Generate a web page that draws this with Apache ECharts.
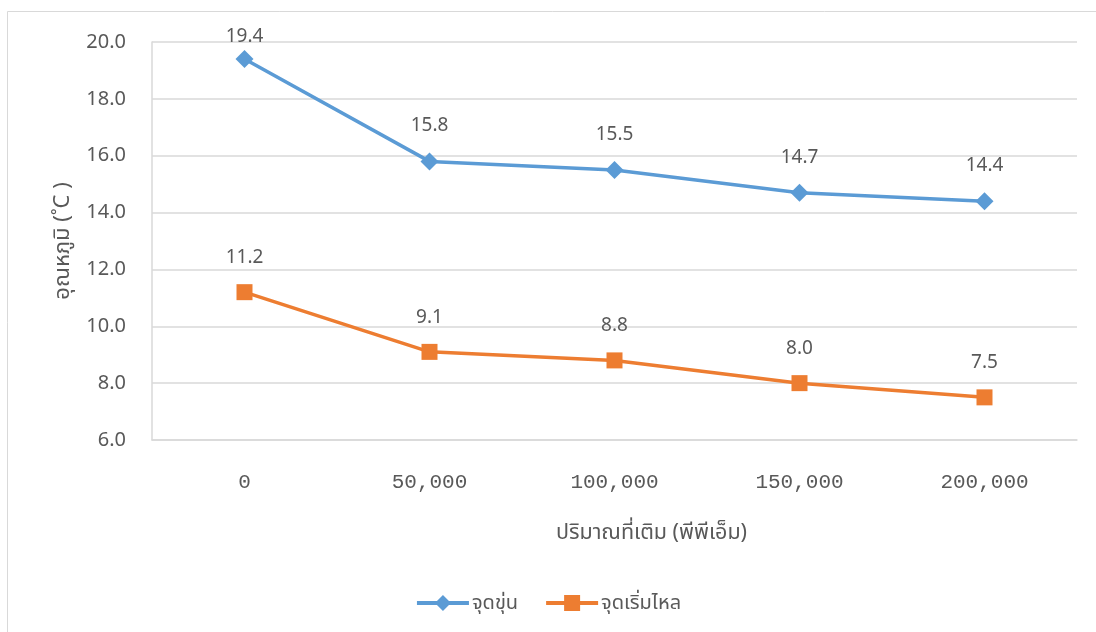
<!DOCTYPE html>
<html>
<head>
<meta charset="utf-8">
<script src="https://cdn.jsdelivr.net/npm/echarts@6/dist/echarts.min.js"></script>
<style>
  html, body { margin: 0; padding: 0; background: #fff; }
  #chart { width: 1096px; height: 632px; }
</style>
</head>
<body>
<div id="chart"></div>
<script>
// Dosage categories (ppm) and measured temperatures (°C)
const doses = ['0', '50,000', '100,000', '150,000', '200,000'];
const cloudPoint = [19.4, 15.8, 15.5, 14.7, 14.4];
const pourPoint = [11.2, 9.1, 8.8, 8.0, 7.5];
const yTicks = { min: 6, max: 20, interval: 2 };

const seriesNames = ['จุดขุ่น', 'จุดเริ่มไหล'];
const xTitle = 'ปริมาณที่เติม (พีพีเอ็ม)';
const yTitle = 'อุณหภูมิ (˚C )';

const FONT = '"Noto Sans", "Noto Sans Thai", sans-serif';
const MONO = '"Liberation Mono", monospace';
const TEXT = '#595959';
const GRID = '#d9d9d9';

function withLabels(values) {
  return values.map(function (v) {
    // the top-most point sits close to the plot edge, so its label is pulled in
    if (v >= 19) return { value: v, label: { distance: 4 } };
    return v;
  });
}

const valueLabel = {
  show: true, position: 'top', distance: 17,
  color: TEXT, fontSize: 19, fontFamily: FONT,
  formatter: function (p) { return p.value.toFixed(1); }
};

const chart = echarts.init(document.getElementById('chart'));
chart.setOption({
  animation: false,
  backgroundColor: '#fff',
  textStyle: { fontFamily: FONT },
  graphic: [{
    type: 'rect',
    shape: { x: 7.5, y: 11.5, width: 1100, height: 640 },
    style: { fill: 'none', stroke: '#d9d9d9', lineWidth: 1 },
    silent: true
  }],
  grid: { left: 152, right: 19, top: 42, bottom: 192, containLabel: false },
  legend: {
    bottom: 14,
    left: 'center',
    itemWidth: 52,
    itemHeight: 20,
    itemGap: 26,
    lineStyle: { width: 4 },
    textStyle: { color: TEXT, fontSize: 20, fontFamily: FONT, padding: [0, 0, 0, -2] },
    data: seriesNames
  },
  xAxis: {
    type: 'category',
    data: doses,
    boundaryGap: true,
    name: xTitle,
    nameLocation: 'middle',
    nameGap: 82,
    nameTextStyle: { color: TEXT, fontSize: 21.5, fontFamily: FONT, padding: [0, 0, 0, 74] },
    axisLine: { show: true, lineStyle: { color: GRID, width: 1.5 } },
    axisTick: { show: false },
    axisLabel: { color: TEXT, fontSize: 21, margin: 32, fontFamily: MONO }
  },
  yAxis: {
    type: 'value',
    min: yTicks.min,
    max: yTicks.max,
    interval: yTicks.interval,
    name: yTitle,
    nameLocation: 'middle',
    nameGap: 78,
    nameRotate: 90,
    nameTextStyle: { color: TEXT, fontSize: 22, fontFamily: FONT },
    axisLine: { show: true, lineStyle: { color: GRID, width: 1.5 } },
    axisTick: { show: false },
    splitLine: { lineStyle: { color: GRID, width: 1.5 } },
    axisLabel: {
      color: TEXT, fontSize: 20, margin: 26, fontFamily: FONT,
      formatter: function (v) { return v.toFixed(1); }
    }
  },
  series: [
    {
      name: seriesNames[0],
      type: 'line',
      data: withLabels(cloudPoint),
      symbol: 'diamond',
      symbolSize: 18,
      lineStyle: { color: '#5B9BD5', width: 3.5 },
      itemStyle: { color: '#5B9BD5' },
      label: valueLabel
    },
    {
      name: seriesNames[1],
      type: 'line',
      data: withLabels(pourPoint),
      symbol: 'rect',
      symbolSize: 16,
      lineStyle: { color: '#ED7D31', width: 3.5 },
      itemStyle: { color: '#ED7D31' },
      label: valueLabel
    }
  ]
});
</script>
</body>
</html>
